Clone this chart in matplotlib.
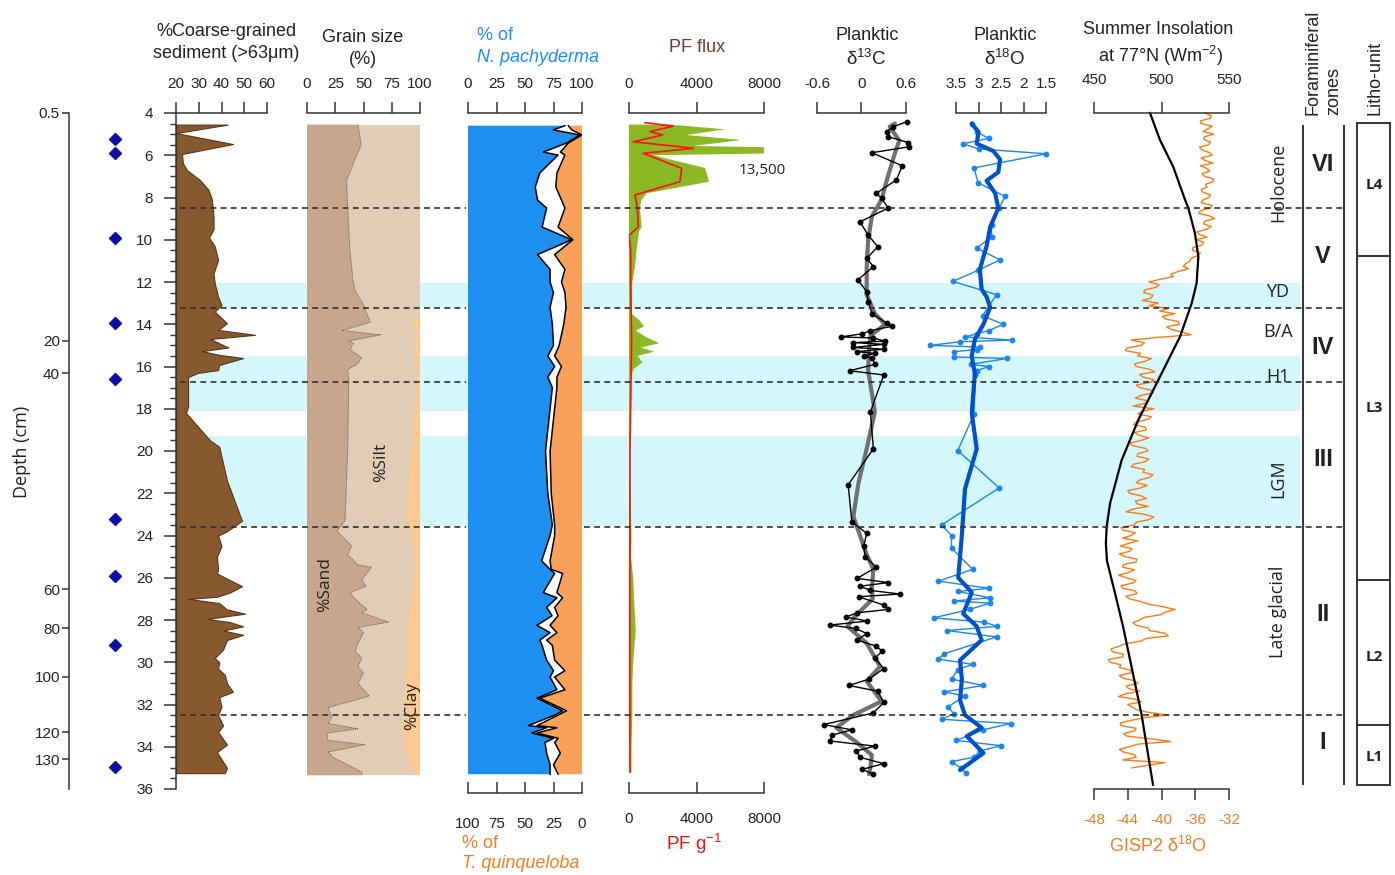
import numpy as np
import matplotlib
matplotlib.use("Agg")
import matplotlib.pyplot as plt
from matplotlib.ticker import MultipleLocator, FuncFormatter
from matplotlib.patches import Rectangle

# ======================= DATA (ages in kyr BP) =======================
# depth axis (age-depth tie points)
depth_labels = [0.5, 20, 40, 60, 80, 100, 120, 130]
depth_ages = [4.0, 14.78, 16.32, 26.55, 28.39, 30.68, 33.32, 34.58]
# radiocarbon dates (diamonds)
date_ages = [5.25, 5.91, 9.93, 13.93, 16.58, 23.23, 25.92, 29.2, 34.94]

# coarse-grained sediment (%)
coarse_age = [4.55, 4.95, 5.47, 5.94, 6.37, 6.7, 7.17, 7.64, 8.1, 8.9,
              9.5, 9.9, 10.3, 10.96, 11.6, 12.05, 12.7, 13.1, 13.4, 13.95,
              14.27, 14.5, 14.7, 15.1, 15.27, 15.45, 15.6, 15.93, 16.17, 16.3,
              16.5, 17.9, 18.2, 19.5, 19.8, 21.4, 23.3, 23.8, 24.0, 24.5,
              25.0, 25.6, 25.8, 26.4, 26.7, 26.9, 27.0, 27.2, 27.5, 27.7,
              27.95, 28.1, 28.3, 28.5, 28.7, 28.95, 29.4, 29.8, 30.0, 30.3,
              30.6, 31.0, 31.4, 31.65, 32.1, 32.5, 33.0, 33.3, 33.9, 34.25,
              35.0, 35.25]
coarse_val = [42.7, 20, 45, 22.6, 23, 24.8, 30.5, 34.3, 35.8, 36.5,
              36.5, 34.5, 37, 38.5, 36.5, 37, 38.5, 40, 37, 42.4,
              38.5, 54.7, 35, 43, 31.4, 39, 49.5, 39, 38.5, 29.7,
              25.3, 25.3, 24.4, 35, 39, 42.4, 49, 42.4, 38.5, 40,
              38, 38.5, 38, 49, 43.7, 38, 25.3, 39, 42.4, 50.3,
              33.6, 43.7, 49.5, 40.7, 49.5, 42.4, 40.7, 37, 39, 38.5,
              41.5, 42.4, 45, 39, 40, 38.5, 40.7, 38.5, 42.4, 38,
              42.4, 41.5]

# grain size: sand % and clay %
sand_age = [4.55, 5.5, 6.4, 7.2, 8.5, 10.5, 12.05, 12.4, 13.1, 13.9,
            14.3, 14.5, 14.8, 14.9, 15.2, 15.6, 15.9, 16.15, 16.6, 20.0,
            23.3, 23.8, 24.5, 24.9, 25.4, 25.5, 26.1, 26.4, 26.7, 27.0,
            27.5, 27.65, 28.1, 28.35, 28.6, 29.1, 29.5, 29.8, 30.2, 30.5,
            31.0, 31.6, 32.15, 32.6, 32.9, 33.15, 33.35, 33.7, 33.9, 34.25,
            34.5, 35.2, 35.35]
sand_pct = [45, 48, 41, 35, 36, 38, 41, 42.5, 50, 56,
            31, 65, 36.5, 41, 38, 48.5, 44, 36, 37, 36,
            33.6, 26.5, 39.5, 36, 45, 57, 48.5, 52, 38, 42.5,
            53, 48.5, 72, 45, 50, 45, 42.5, 48.5, 45, 50,
            45, 55, 18.6, 22, 18.6, 45, 17.7, 18.6, 51, 18.6,
            23, 48.5, 48.5]
clay_age = [4.55, 13.6, 14.0, 14.3, 14.5, 15.0, 15.4, 16.0, 16.6, 23.3,
            24.0, 25.0, 26.0, 26.5, 27.5, 28.5, 30.0, 31.5, 32.5, 33.2,
            34.0, 34.5, 35.2, 35.35]
clay_pct = [0.3, 0.5, 9, 4, 2, 4, 6, 2, 2, 12.4,
            7, 4.4, 4.4, 6, 9, 11.5, 11, 13, 13, 16,
            13, 11.5, 6, 6]

# planktic foraminifera species %
np_age = [4.6, 4.8, 5.04, 5.42, 5.85, 5.99, 6.84, 7.5, 8.12, 8.5,
          9.4, 10.0, 10.7, 11.4, 12.0, 12.5, 13.2, 14.0, 15.0, 15.5,
          16.0, 16.5, 17.0, 19.0, 20.0, 22.0, 23.5, 24.0, 25.2, 25.6,
          25.8, 26.7, 26.95, 27.4, 27.8, 28.25, 28.6, 28.95, 29.2, 29.9,
          30.4, 30.7, 31.3, 31.7, 32.3, 32.5, 33.0, 33.1, 33.35, 33.6,
          33.8, 34.3, 34.85, 35.3]
np_pct = [85, 74.8, 98, 86.6, 66, 79, 63, 59, 61, 69,
          65, 91, 61, 72, 72, 75, 72, 74, 75, 70,
          76, 70, 74, 70, 68, 70, 74, 72, 64.6, 72,
          76, 66, 78, 69, 73.7, 60.5, 72, 63, 65, 69,
          75, 72, 78, 60.5, 83, 76, 53, 69, 56, 75,
          67.5, 69, 72, 72]
tq_pct = [12, 9, 0, 12, 19, 15, 22, 23, 18, 15,
          21, 8, 24, 15, 18, 15, 14, 16, 20, 24,
          18, 22, 22, 26, 28, 27, 24, 24, 28, 27,
          17, 22, 17, 24, 21, 28, 22, 31, 26, 24,
          15, 24, 15, 37, 13.5, 21, 39.5, 22, 39.5, 21,
          24, 19, 25, 21]

# PF flux and PF per gram
pf_age = [4.55, 4.77, 5.04, 5.28, 5.56, 5.7, 5.85, 6.0, 6.6, 7.25,
          7.8, 8.1, 8.5, 9.4, 9.6, 10.5, 11.3, 12.0, 13.0, 13.5,
          13.8, 14.1, 14.3, 14.6, 14.9, 15.1, 15.3, 15.5, 15.8, 16.1,
          16.5, 18, 20, 22, 24, 25, 26, 27, 28.5, 30,
          31, 32.5, 34, 35.2]
pf_flux = [2430, 5690, 3400, 6670, 3800, 13500, 13500, 1440, 4500, 4750,
           1050, 750, 650, 750, 600, 450, 350, 200, 150, 150,
           600, 900, 400, 1000, 1800, 700, 1500, 500, 800, 300,
           100, 60, 60, 80, 150, 120, 250, 300, 400, 250,
           200, 200, 150, 150]
pfg_age = [4.46, 4.62, 4.88, 5.04, 5.36, 5.67, 5.91, 6.62, 7.25, 7.88,
           8.5, 9.4, 9.8, 10.5, 12.0, 14.5, 15.0, 20.0, 25.0, 30.0, 35.2]
pf_g = [950, 2630, 1240, 1995, 255, 3810, 850, 3120, 3020, 355,
        500, 550, 0, 100, 100, 150, 150, 60, 60, 50, 60]

# planktic d13C (raw and smoothed)
c13_age = [4.41, 4.65, 4.88, 5.12, 5.4, 5.6, 5.88, 6.5, 7.17, 7.8,
           8.04, 8.5, 9.15, 9.78, 10.33, 10.88, 11.27, 11.9, 12.45, 12.93,
           13.5, 13.95, 14.1, 14.3, 14.45, 14.6, 14.65, 14.8, 14.87, 14.95,
           15.1, 15.18, 15.3, 15.38, 15.5, 15.6, 15.9, 16.2, 16.4, 18.15,
           19.9, 21.6, 23.35, 23.9, 24.5, 25.0, 25.5, 26.03, 26.23, 26.4,
           26.6, 26.77, 26.9, 27.29, 27.5, 27.66, 27.86, 28.05, 28.24, 28.4,
           28.64, 28.95, 29.24, 29.48, 29.8, 30.3, 30.8, 31.1, 31.37, 31.9,
           32.4, 32.95, 33.2, 33.45, 33.73, 33.97, 34.2, 34.5, 34.8, 35.07,
           35.3]
c13_val = [0.61, 0.43, 0.34, 0.36, 0.63, 0.64, 0.14, 0.55, 0.47, 0.2,
           0.27, 0.36, -0.02, 0.09, 0.22, 0.07, 0.16, -0.05, 0.07, 0.09,
           0.14, 0.34, 0.41, 0.12, 0.01, -0.28, 0.16, 0.32, -0.11, 0.3,
           -0.11, 0.3, -0.06, 0.18, 0.03, 0.14, 0.18, -0.16, 0.3, 0.12,
           0.16, -0.18, -0.13, 0.07, 0.03, 0.05, 0.2, -0.06, 0.36, -0.02,
           0.12, 0.52, -0.04, 0.3, 0.36, -0.06, -0.21, 0.08, -0.43, -0.08,
           0.07, -0.06, 0.2, 0.28, 0.18, 0.3, 0.1, -0.17, 0.22, 0.3,
           0.16, -0.51, -0.13, -0.4, -0.42, 0.18, -0.07, -0.02, 0.3, 0.01,
           0.16]
c13s_age = [4.5, 4.65, 5.3, 5.9, 7.2, 8.1, 8.9, 10.0, 11.3, 12.6,
            13.5, 14.0, 14.55, 15.3, 16.2, 18.15, 19.9, 21.5, 23.1, 24.0,
            24.9, 25.6, 26.5, 27.0, 27.8, 28.3, 29.1, 30.2, 30.9, 31.85,
            32.5, 33.1, 33.75, 34.4, 35.0, 35.3]
c13s_val = [0.45, 0.38, 0.51, 0.45, 0.34, 0.27, 0.14, 0.09, 0.07, 0.07,
            0.18, 0.32, 0.12, 0.1, 0.09, 0.18, 0.07, -0.04, -0.11, -0.02,
            0.07, 0.16, 0.14, 0.15, -0.08, -0.19, 0.07, 0.25, 0.07, 0.27,
            -0.11, -0.34, -0.08, 0.14, 0.12, 0.1]

# planktic d18O (raw and smoothed)
o18_age = [4.5, 4.9, 5.2, 5.46, 5.7, 5.93, 6.6, 7.3, 7.95, 8.5,
           9.3, 9.85, 10.4, 10.95, 11.45, 11.97, 12.6, 13.6, 14.0, 14.3,
           14.45, 14.6, 14.75, 14.83, 15.0, 15.08, 15.2, 15.3, 15.55, 15.62,
           15.9, 16.0, 16.2, 16.4, 18.25, 19.98, 21.75, 23.5, 24.0, 24.6,
           25.6, 26.16, 26.5, 26.65, 26.95, 27.1, 27.2, 27.5, 27.9, 28.1,
           28.3, 28.5, 28.8, 29.6, 29.85, 30.1, 30.35, 30.8, 31.1, 31.4,
           31.6, 32.1, 32.45, 32.7, 32.9, 33.2, 33.7, 33.95, 34.2, 34.5,
           34.7, 35.0, 35.25]
o18_val = [3.15, 3.04, 2.77, 3.35, 2.99, 1.5, 3.1, 3.01, 2.41, 2.54,
           2.71, 2.71, 3.04, 2.52, 3.01, 3.57, 2.6, 2.91, 2.45, 2.77,
           3.04, 3.3, 2.26, 3.42, 4.07, 2.97, 3.04, 3.55, 3.55, 2.37,
           3.17, 2.77, 3.04, 3.07, 3.1, 3.46, 2.54, 3.82, 3.6, 3.6,
           3.13, 3.89, 2.77, 3.46, 2.74, 3.55, 2.74, 3.2, 4.0, 2.88,
           2.58, 3.7, 2.6, 3.76, 3.89, 3.13, 3.46, 3.6, 2.89, 3.76,
           3.3, 3.67, 3.55, 3.82, 2.28, 2.9, 3.5, 2.5, 2.97, 3.1,
           3.6, 3.4, 3.28]
o18s_age = [4.5, 4.9, 5.45, 5.8, 6.2, 6.8, 7.2, 7.8, 8.5, 9.4,
            10.3, 11.4, 12.35, 12.7, 13.2, 14.0, 14.7, 15.5, 16.35, 18.2,
            19.9, 21.8, 24.0, 26.0, 26.5, 26.7, 27.7, 28.3, 28.95, 29.9,
            30.8, 31.8, 32.5, 33.1, 33.5, 34.3, 35.1]
o18s_val = [3.15, 3.0, 3.04, 2.67, 2.52, 2.56, 2.82, 2.63, 2.56, 2.74,
            2.82, 2.97, 2.93, 2.82, 2.74, 2.89, 3.08, 3.15, 3.08, 3.15,
            3.04, 3.3, 3.37, 3.45, 3.23, 3.15, 3.34, 3.04, 2.93, 3.41,
            3.37, 3.41, 3.3, 2.93, 3.26, 2.89, 3.41]

# summer insolation at 77N (W m-2)
ins_age = [4.0, 5.28, 6.55, 8.1, 8.5, 9.7, 10.8, 12.06, 13.0, 14.59,
           16.64, 18.53, 20.43, 22.48, 23.58, 24.4, 25.2, 26.74, 28.3, 32.5, 35.8]
ins_val = [491.5, 498.9, 508.7, 517.4, 519.9, 524.8, 527.3, 526.0, 522.4, 513.7,
           497.6, 482.8, 470.5, 461.9, 459.4, 458.8, 459.6, 465.6, 471.5, 485.3, 493.7]

# GISP2 d18O (per mil), one row per kyr
gisp_age = [4.0, 4.125, 4.25, 4.375, 4.5, 4.625, 4.75, 4.875,
            5.0, 5.125, 5.25, 5.375, 5.5, 5.625, 5.75, 5.875,
            6.0, 6.125, 6.25, 6.375, 6.5, 6.625, 6.75, 6.875,
            7.0, 7.125, 7.25, 7.375, 7.5, 7.625, 7.75, 7.875,
            8.0, 8.125, 8.25, 8.375, 8.5, 8.625, 8.75, 8.875,
            9.0, 9.125, 9.25, 9.375, 9.5, 9.625, 9.75, 9.875,
            10.0, 10.125, 10.25, 10.375, 10.5, 10.625, 10.75, 10.875,
            11.0, 11.125, 11.25, 11.375, 11.5, 11.625, 11.75, 11.875,
            12.0, 12.125, 12.25, 12.375, 12.5, 12.625, 12.75, 12.875,
            13.0, 13.125, 13.25, 13.375, 13.5, 13.625, 13.75, 13.875,
            14.0, 14.125, 14.25, 14.375, 14.5, 14.625, 14.75, 14.875,
            15.0, 15.125, 15.25, 15.375, 15.5, 15.625, 15.75, 15.875,
            16.0, 16.125, 16.25, 16.375, 16.5, 16.625, 16.75, 16.875,
            17.0, 17.125, 17.25, 17.375, 17.5, 17.625, 17.75, 17.875,
            18.0, 18.125, 18.25, 18.375, 18.5, 18.625, 18.75, 18.875,
            19.0, 19.125, 19.25, 19.375, 19.5, 19.625, 19.75, 19.875,
            20.0, 20.125, 20.25, 20.375, 20.5, 20.625, 20.75, 20.875,
            21.0, 21.125, 21.25, 21.375, 21.5, 21.625, 21.75, 21.875,
            22.0, 22.125, 22.25, 22.375, 22.5, 22.625, 22.75, 22.875,
            23.0, 23.125, 23.25, 23.375, 23.5, 23.625, 23.75, 23.875,
            24.0, 24.125, 24.25, 24.375, 24.5, 24.625, 24.75, 24.875,
            25.0, 25.125, 25.25, 25.375, 25.5, 25.625, 25.75, 25.875,
            26.0, 26.125, 26.25, 26.375, 26.5, 26.625, 26.75, 26.875,
            27.0, 27.125, 27.25, 27.375, 27.5, 27.625, 27.75, 27.875,
            28.0, 28.125, 28.25, 28.375, 28.5, 28.625, 28.75, 28.875,
            29.0, 29.125, 29.25, 29.375, 29.5, 29.625, 29.75, 29.875,
            30.0, 30.125, 30.25, 30.375, 30.5, 30.625, 30.75, 30.875,
            31.0, 31.125, 31.25, 31.375, 31.5, 31.625, 31.75, 31.875,
            32.0, 32.125, 32.25, 32.375, 32.5, 32.625, 32.75, 32.875,
            33.0, 33.125, 33.25, 33.375, 33.5, 33.625, 33.75, 33.875,
            34.0, 34.125, 34.25, 34.375, 34.5, 34.625, 34.75, 34.875,
            35.0]
gisp_val = [-34.9, -34.1, -34.2, -35.4, -35.3, -34.0, -34.5, -35.1,
            -33.8, -34.9, -35.0, -34.2, -34.4, -35.5, -35.2, -34.3,
            -34.0, -35.3, -34.8, -33.9, -35.4, -34.6, -34.3, -35.2,
            -34.9, -33.8, -33.9, -34.8, -34.6, -35.3, -35.1, -34.2,
            -34.4, -35.1, -35.3, -34.0, -34.2, -35.4, -35.6, -34.3,
            -33.7, -34.9, -35.0, -34.1, -34.6, -35.8, -35.5, -34.6,
            -35.9, -35.0, -35.2, -36.3, -36.3, -35.4, -35.7, -36.5,
            -36.6, -37.1, -37.4, -36.8, -38.0, -38.9, -38.6, -40.2,
            -41.5, -40.3, -40.6, -42.0, -42.1, -41.0, -41.2, -42.3,
            -40.4, -41.5, -39.2, -40.2, -38.4, -39.9, -39.5, -38.0,
            -37.9, -39.4, -38.8, -37.5, -36.5, -40.5, -43.6, -42.0,
            -42.4, -44.1, -44.3, -42.5, -42.8, -41.2, -41.9, -43.2,
            -43.0, -41.5, -40.8, -42.6, -42.2, -40.9, -41.3, -43.0,
            -42.6, -41.2, -41.0, -42.5, -43.1, -41.6, -42.0, -43.4,
            -40.9, -42.3, -42.8, -41.2, -41.6, -43.0, -43.3, -41.9,
            -41.8, -43.2, -42.7, -41.5, -42.4, -43.8, -43.4, -41.9,
            -41.6, -42.8, -42.9, -41.5, -41.9, -43.3, -43.6, -42.0,
            -42.2, -41.0, -41.4, -42.6, -43.0, -41.7, -42.5, -44.0,
            -43.8, -42.4, -41.8, -43.1, -42.9, -41.6, -43.4, -44.2,
            -42.0, -40.9, -41.5, -43.0, -43.2, -44.8, -44.5, -43.1,
            -43.6, -44.6, -42.8, -43.9, -44.9, -43.5, -43.8, -45.0,
            -44.3, -42.9, -43.0, -44.5, -44.6, -43.2, -43.9, -45.1,
            -44.2, -43.0, -43.4, -44.8, -44.6, -43.1, -42.9, -44.2,
            -43.8, -42.5, -41.5, -39.8, -38.4, -39.5, -40.1, -42.0,
            -42.6, -43.4, -43.0, -41.6, -41.4, -39.6, -39.2, -41.8,
            -42.5, -44.3, -45.1, -46.0, -45.8, -44.5, -44.6, -46.3,
            -46.1, -44.8, -45.0, -43.7, -43.5, -45.0, -44.6, -43.2,
            -42.8, -44.2, -43.9, -42.6, -44.3, -45.1, -43.1, -42.4,
            -44.0, -43.5, -42.9, -41.5, -39.3, -42.0, -43.6, -44.9,
            -44.8, -43.0, -43.2, -44.5, -44.1, -41.2, -38.9, -42.8,
            -43.8, -45.0, -44.5, -43.2, -43.0, -44.6, -39.6, -41.5,
            -43.5]

# climatic intervals, zones, litho-units
band_start = [12.05, 15.48, 19.27]
band_end = [13.22, 18.1, 23.57]
zone_bounds = [8.5, 13.22, 16.75, 23.6, 32.5]
zone_labels = ['VI', 'V', 'IV', 'III', 'II', 'I']
zone_label_age = [6.46, 10.8, 15.08, 20.4, 27.76, 33.8]
litho_bounds = [10.75, 26.1, 32.97]
litho_labels = ['L4', 'L3', 'L2', 'L1']
litho_label_age = [7.4, 17.96, 29.74, 34.47]
period_labels = ['Holocene', 'YD', 'B/A', 'H1', 'LGM', 'Late glacial']
period_age = [7.3, 12.47, 14.37, 16.48, 21.3, 27.6]
period_rot = [90, 0, 0, 0, 90, 90]

# ======================= STYLE / LAYOUT =======================
W, H = 1395, 875
plt.rcParams['font.family'] = ['Liberation Sans', 'DejaVu Sans']
plt.rcParams['axes.unicode_minus'] = False
plt.rcParams['mathtext.fontset'] = 'custom'
plt.rcParams['mathtext.rm'] = 'Liberation Sans'
plt.rcParams['mathtext.it'] = 'Liberation Sans:italic'
plt.rcParams['mathtext.bf'] = 'Liberation Sans:bold'

fig = plt.figure(figsize=(W / 100, H / 100), dpi=100)
YT, YB = 113, 789
AX_C = '#333333'
TXT_C = '#222222'
gfmt = FuncFormatter(lambda v, p: f'{v:g}')


def axes_px(x0, x1, z=1):
    ax = fig.add_axes([x0 / W, 1 - YB / H, (x1 - x0) / W, (YB - YT) / H], zorder=z)
    ax.set_facecolor('none')
    ax.set_ylim(36, 4)
    for s in ax.spines.values():
        s.set_visible(False)
    ax.set_yticks([])
    ax.set_xticks([])
    return ax


def top_axis(ax, ticks, pad=8):
    ax.spines['top'].set_visible(True)
    ax.spines['top'].set_linewidth(1.1)
    ax.spines['top'].set_color(AX_C)
    ax.xaxis.set_ticks_position('top')
    ax.set_xticks(ticks)
    ax.xaxis.set_major_formatter(gfmt)
    ax.tick_params(axis='x', which='major', direction='out', length=8, width=1.1,
                   color=AX_C, pad=pad, labelsize=11, labelcolor=TXT_C)


def bottom_axis(ax, ticks, functions, offset_px, direction, pad, labelcolor=TXT_C):
    sec = ax.secondary_xaxis(-offset_px / (YB - YT), functions=functions)
    sec.set_xticks(ticks)
    sec.xaxis.set_major_formatter(gfmt)
    sec.tick_params(axis='x', direction=direction, length=8, width=1.1, color=AX_C,
                    pad=pad, labelsize=11, labelcolor=labelcolor)
    for k, s in sec.spines.items():
        s.set_linewidth(1.1)
        s.set_color(AX_C)
    return sec


def tx(x, y, s, **kw):
    kw.setdefault('color', TXT_C)
    fig.text(x / W, 1 - y / H, s, **kw)


# ---------- background: climatic bands ----------
bg = axes_px(0, W, z=0)
bg.set_xlim(0, W)
bg.axis('off')
for a0, a1 in zip(band_start, band_end):
    bg.axhspan(a0, a1, xmin=178 / W, xmax=1300 / W, color='#d3f7fd', lw=0)

# ---------- depth axis ----------
axd = axes_px(69, 70, z=2)
axd.spines['left'].set_visible(True)
axd.spines['left'].set_linewidth(1.1)
axd.spines['left'].set_color(AX_C)
axd.set_yticks(depth_ages)
axd.set_yticklabels([f'{d:g}' for d in depth_labels])
axd.tick_params(axis='y', direction='out', length=5, width=1.1, color=AX_C, pad=1.5,
                labelsize=11, labelcolor=TXT_C)
tx(22, 452, 'Depth (cm)', rotation=90, ha='center', va='center', fontsize=13,
   family=['Open Sans', 'DejaVu Sans'])

# ---------- panel 1: coarse fraction ----------
ax1 = axes_px(176, 267, z=2)
ax1.set_xlim(20, 60)
top_axis(ax1, [20, 30, 40, 50, 60])
ax1.spines['left'].set_visible(True)
ax1.spines['left'].set_linewidth(1.1)
ax1.spines['left'].set_color(AX_C)
ax1.yaxis.set_major_locator(MultipleLocator(2))
ax1.yaxis.set_minor_locator(MultipleLocator(0.5))
ax1.yaxis.set_major_formatter(gfmt)
ax1.tick_params(axis='y', which='major', direction='out', length=8.4, width=1.1,
                color=AX_C, pad=8, labelsize=11, labelcolor=TXT_C)
ax1.tick_params(axis='y', which='minor', direction='out', length=4.6, width=1.0, color=AX_C)
ax1.set_ylim(36, 4)
ax1.fill_betweenx(coarse_age, 20, coarse_val, facecolor='#87592f', edgecolor='#5a3414', lw=0.8)
tx(226, 32, '%Coarse-grained', ha='center', va='center', fontsize=13)
tx(226, 54, 'sediment (>63μm)', ha='center', va='center', fontsize=13)

# ---------- panel 2: grain size ----------
ax2 = axes_px(307, 420, z=2)
ax2.set_xlim(0, 100)
top_axis(ax2, [0, 25, 50, 75, 100])
ax2.fill_betweenx(sand_age, 0, 100, facecolor='#e1ccb6', lw=0)
ax2.fill_betweenx(clay_age, [100 - c for c in clay_pct], 100, facecolor='#fdc993', lw=0)
ax2.fill_betweenx(sand_age, 0, sand_pct, facecolor='#c8a68b', edgecolor='none', lw=0)
ax2.plot(sand_pct, sand_age, color='#7d7064', lw=0.7, ls=(0, (1.5, 0.8)))
tx(363, 38, 'Grain size', ha='center', va='center', fontsize=13)
tx(363, 60, '(%)', ha='center', va='center', fontsize=13)
tx(325, 585, '%Sand', rotation=90, ha='center', va='center', fontsize=12.5,
   family=['Open Sans', 'DejaVu Sans'])
tx(381, 462, '%Silt', rotation=90, ha='center', va='center', fontsize=12.5,
   family=['Open Sans', 'DejaVu Sans'])
tx(412, 706, '%Clay', rotation=90, ha='center', va='center', fontsize=12.5,
   family=['Open Sans', 'DejaVu Sans'])

# ---------- panel 3: N. pachyderma / T. quinqueloba ----------
ax3 = axes_px(468, 582, z=2)
ax3.set_xlim(0, 100)
top_axis(ax3, [0, 25, 50, 75, 100])
tqb = [100 - t for t in tq_pct]
ax3.fill_betweenx(np_age, 0, np_pct, facecolor='#1c8ff0', lw=0)
ax3.fill_betweenx(np_age, np_pct, tqb, facecolor='white', lw=0)
ax3.fill_betweenx(np_age, tqb, 100, facecolor='#f9a05a', lw=0)
ax3.plot(np_pct, np_age, color='black', lw=1.1)
ax3.plot(tqb, np_age, color='black', lw=1.1)
bottom_axis(ax3, [0, 25, 50, 75, 100], (lambda x: 100 - x, lambda x: 100 - x),
            4, 'in', 17)
tx(477, 35, '% of', ha='left', va='center', fontsize=13, color='#1a8cff')
tx(477, 57, 'N. pachyderma', ha='left', va='center', fontsize=13, color='#1a8cff', style='italic')
tx(462, 843, '% of', ha='left', va='center', fontsize=13, color='#f47f22')
tx(462, 864, 'T. quinqueloba', ha='left', va='center', fontsize=13, color='#f47f22', style='italic')

# ---------- panel 4: PF flux ----------
ax4 = axes_px(629, 764, z=2)
ax4.set_xlim(0, 8000)
top_axis(ax4, [0, 4000, 8000])
ax4.fill_betweenx(pf_age, 0, pf_flux, facecolor='#8cb823', lw=0)
ax4.plot(pf_g, pfg_age, color='#ff1010', lw=1.2)
bottom_axis(ax4, [0, 4000, 8000], (lambda x: x, lambda x: x), 4, 'in', 14)
tx(697, 47, 'PF flux', ha='center', va='center', fontsize=13, color='#6e3b2c')
tx(694, 844, 'PF g$^{-1}$', ha='center', va='center', fontsize=13.5, color='#ee1111')
tx(762, 170, '13,500', ha='center', va='center', fontsize=11,
   family=['Open Sans', 'DejaVu Sans'])

# ---------- panel 5: d13C ----------
ax5 = axes_px(817, 906, z=2)
ax5.set_xlim(-0.6, 0.6)
top_axis(ax5, [-0.6, 0, 0.6])
ax5.plot(c13s_val, c13s_age, color='#707070', lw=3.0, solid_capstyle='round', clip_on=False)
ax5.plot(c13_val, c13_age, color='black', lw=1.0, marker='o', ms=3.2, clip_on=False)
tx(867, 35, 'Planktic', ha='center', va='center', fontsize=13)
tx(866, 59, 'δ$^{13}$C', ha='center', va='center', fontsize=13.5)

# ---------- panel 6: d18O ----------
ax6 = axes_px(956, 1046, z=2)
ax6.set_xlim(3.5, 1.5)
top_axis(ax6, [3.5, 3, 2.5, 2, 1.5])
ax6.plot(o18_val, o18_age, color='#1a86f0', lw=1.0, marker='o', ms=3.2, clip_on=False)
ax6.plot(o18s_val, o18s_age, color='#0052c8', lw=3.0, solid_capstyle='round', clip_on=False)
tx(1005, 35, 'Planktic', ha='center', va='center', fontsize=13)
tx(1005, 59, 'δ$^{18}$O', ha='center', va='center', fontsize=13.5)

# ---------- panel 7: GISP2 + insolation ----------
ax7 = axes_px(1094, 1229, z=2)
ax7.set_xlim(-48, -32)
ax7.plot(gisp_val, gisp_age, color='#ff7a10', lw=1.0, clip_on=False)
ax7.spines['bottom'].set_visible(True)
ax7.spines['bottom'].set_linewidth(1.1)
ax7.spines['bottom'].set_color(AX_C)
ax7.set_xticks([-48, -44, -40, -36, -32])
ax7.xaxis.set_major_formatter(gfmt)
ax7.tick_params(axis='x', direction='out', length=8, width=1.1, color=AX_C, pad=9,
                labelsize=11, labelcolor='#f47c20')
ax7.set_ylim(36, 4)
ax7b = axes_px(1094, 1229, z=3)
ax7b.set_xlim(450, 550)
top_axis(ax7b, [450, 500, 550], pad=11)
ax7b.plot(ins_val, ins_age, color='black', lw=1.6, clip_on=False)
tx(1158, 30, 'Summer Insolation', ha='center', va='center', fontsize=13)
tx(1161, 56, 'at 77°N (Wm$^{-2}$)', ha='center', va='center', fontsize=13)
tx(1158, 846, 'GISP2 δ$^{18}$O', ha='center', va='center', fontsize=13, color='#f47c20')

# ---------- overlay: zone boundaries, columns, dates ----------
ov = axes_px(0, W, z=10)
ov.set_xlim(0, W)
ov.axis('off')
ov.hlines(zone_bounds, 180, 466, colors='#303030', linestyles=(0, (3.5, 2.6)), lw=1.2)
ov.hlines(zone_bounds, 584, 1344, colors='#303030', linestyles=(0, (3.5, 2.6)), lw=1.2)
ov.vlines([1303, 1344], 4.57, 35.8, colors=AX_C, lw=1.4)
ov.add_patch(Rectangle((1357, 4.49), 33, 35.81 - 4.49, fill=False, ec=AX_C, lw=1.4))
ov.hlines(litho_bounds, 1357, 1390, colors=AX_C, lw=1.4)
ov.plot([115] * len(date_ages), date_ages, ls='none', marker='D', ms=6.2, color='#0c0ca8')
for lab, a in zip(zone_labels, zone_label_age):
    ov.text(1323, a, lab, ha='center', va='center', fontsize=17, fontweight='bold', color=TXT_C)
for lab, a in zip(litho_labels, litho_label_age):
    ov.text(1374, a, lab, ha='center', va='center', fontsize=11, fontweight='bold',
            color=TXT_C, family=['Open Sans', 'DejaVu Sans'])
for lab, a, r in zip(period_labels, period_age, period_rot):
    ov.text(1278, a, lab, rotation=r, ha='center', va='center', fontsize=13,
            color=TXT_C, family=['Open Sans', 'DejaVu Sans'])

tx(1313, 115, 'Foraminiferal', rotation=90, ha='center', va='bottom', fontsize=13)
tx(1334, 115, 'zones', rotation=90, ha='center', va='bottom', fontsize=13)
tx(1375, 115, 'Litho-unit', rotation=90, ha='center', va='bottom', fontsize=13)

fig.savefig('out.png', dpi=100)
